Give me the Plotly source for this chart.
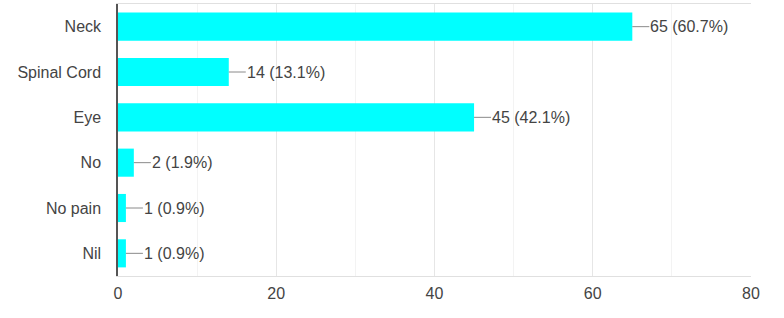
import plotly.graph_objects as go

categories = ["Neck", "Spinal Cord", "Eye", "No", "No pain", "Nil"]
counts = [65, 14, 45, 2, 1, 1]
percents = [60.7, 13.1, 42.1, 1.9, 0.9, 0.9]
x_ticks = [0, 20, 40, 60, 80]

FONT = "Liberation Sans, Arial, sans-serif"
TEXT = "#444444"

fig = go.Figure()
fig.add_trace(go.Bar(
    x=counts, y=categories, orientation="h",
    marker=dict(color="#00FFFF", line=dict(width=0)),
    hoverinfo="skip",
))

for c, v, p in zip(categories, counts, percents):
    fig.add_annotation(
        x=v, y=c, xref="x", yref="y",
        text=f"{v} ({p}%)",
        showarrow=True, arrowhead=0, arrowwidth=1, arrowcolor="#8a8a8a",
        ax=17, ay=0, xanchor="left", yanchor="middle",
        borderpad=0,
        font=dict(family=FONT, size=16, color=TEXT),
    )

fig.update_layout(
    width=784, height=318,
    margin=dict(l=118, r=33, t=4, b=42, autoexpand=False),
    paper_bgcolor="white", plot_bgcolor="white",
    showlegend=False,
    bargap=0.38,
    font=dict(family=FONT, size=16, color=TEXT),
    xaxis=dict(
        range=[0, 80], tickvals=x_ticks, ticktext=[str(t) for t in x_ticks],
        showgrid=True, gridcolor="#e6e6e6", gridwidth=1,
        minor=dict(dtick=10, showgrid=True, gridcolor="#f3f3f3", gridwidth=1),
        showline=True, linecolor="#e0e0e0", linewidth=1, mirror=True,
        zeroline=False, ticks="", ticklabelstandoff=3, automargin=False,
        tickfont=dict(family=FONT, size=16, color=TEXT),
        fixedrange=True,
    ),
    yaxis=dict(
        categoryorder="array", categoryarray=categories, autorange="reversed",
        showline=True, linecolor="#555555", linewidth=1.5,
        showgrid=False, zeroline=False, ticks="", ticklabelstandoff=12,
        automargin=False,
        tickfont=dict(family=FONT, size=16, color=TEXT),
        fixedrange=True,
    ),
)

fig.write_html(
    "out.html",
    config={"displayModeBar": False},
    post_script="document.body.style.margin='0';document.body.style.overflow='hidden';",
)
